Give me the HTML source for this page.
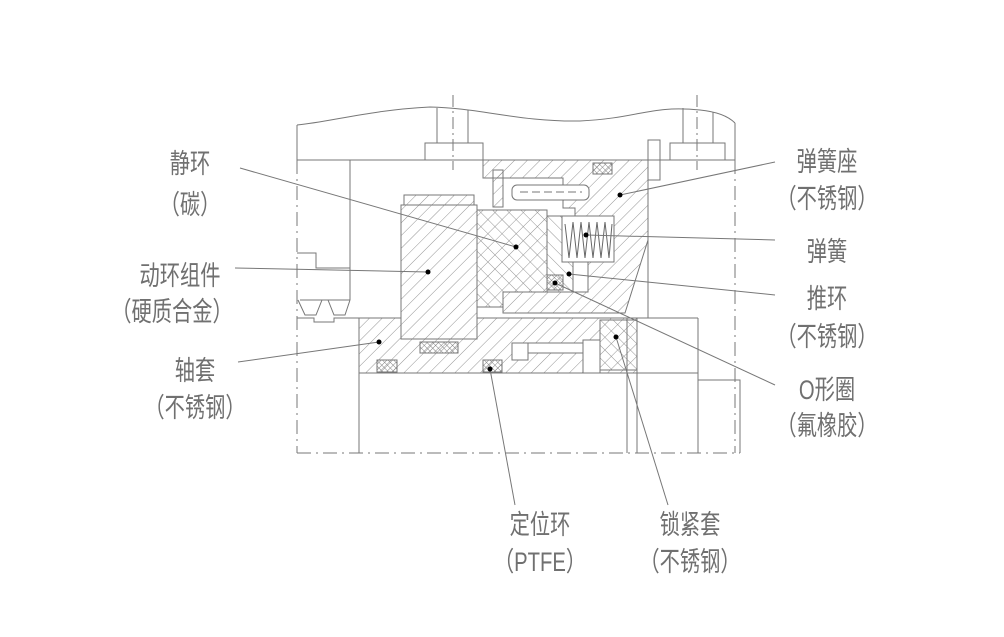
<!DOCTYPE html>
<html><head><meta charset="utf-8"><style>
html,body{margin:0;padding:0;background:#fff;}
svg{display:block;}
text{font-family:"Liberation Sans","Noto Sans CJK SC",sans-serif;fill:#707070;font-size:27px;}
</style></head><body>
<svg width="1004" height="637" viewBox="0 0 1004 637" xmlns="http://www.w3.org/2000/svg">
<defs>
<pattern id="h1" width="9" height="9" patternUnits="userSpaceOnUse" patternTransform="rotate(45)"><line x1="0" y1="0" x2="0" y2="9" stroke="#888" stroke-width="0.9"/></pattern>
<pattern id="h2" width="9" height="9" patternUnits="userSpaceOnUse" patternTransform="rotate(-45)"><line x1="0" y1="0" x2="0" y2="9" stroke="#888" stroke-width="0.9"/></pattern>
<pattern id="hx" width="10" height="10" patternUnits="userSpaceOnUse" patternTransform="rotate(45)"><line x1="0" y1="0" x2="0" y2="10" stroke="#888" stroke-width="0.9"/><line x1="0" y1="0" x2="10" y2="0" stroke="#888" stroke-width="0.9"/></pattern>
<pattern id="hs" width="4" height="4" patternUnits="userSpaceOnUse" patternTransform="rotate(45)"><line x1="0" y1="0" x2="0" y2="4" stroke="#777" stroke-width="0.9"/><line x1="0" y1="0" x2="4" y2="0" stroke="#777" stroke-width="0.9"/></pattern>
</defs>
<g stroke="#777" stroke-width="1" fill="none">
<path d="M297,125 C330,122 370,110 430,107 C480,108 520,122 580,121 C640,118 650,105 700,110 C720,112 730,118 735,123"/>
<line x1="297" y1="125" x2="297" y2="160"/>
<line x1="735" y1="123" x2="735" y2="160"/>
<line x1="297" y1="160" x2="735" y2="160"/>
<rect x="425" y="143" width="58" height="17"/>
<rect x="670" y="143" width="55" height="17"/>
<line x1="437" y1="108" x2="437" y2="143"/><line x1="468" y1="110" x2="468" y2="143"/>
<line x1="683" y1="108" x2="683" y2="143"/><line x1="713" y1="112" x2="713" y2="143"/>
<line x1="453" y1="95" x2="453" y2="170" stroke-dasharray="12,4,2,4"/>
<line x1="697" y1="95" x2="697" y2="170" stroke-dasharray="12,4,2,4"/>
<rect x="648" y="140" width="12" height="40"/>
<line x1="297" y1="160" x2="297" y2="453" stroke-dasharray="14,5,2,5"/>
<line x1="735" y1="160" x2="735" y2="453" stroke-dasharray="14,5,2,5"/>
<line x1="297" y1="453" x2="740" y2="453" stroke-dasharray="14,5,2,5"/>
<line x1="350" y1="160" x2="350" y2="300"/>
<polyline points="297,253 316,253 316,268 350,268"/>
<line x1="300" y1="300" x2="350" y2="300"/>
<path d="M298,300 L305,315 L316,315 L322,300 L328,300 L334,315 L345,315 L350,300"/>
<polyline points="297,318 314,318 314,322 334,322 334,318 359,318"/>
<line x1="359" y1="318" x2="359" y2="453"/>
<line x1="648" y1="180" x2="648" y2="318"/>
<line x1="637" y1="318" x2="698" y2="318"/>
<line x1="698" y1="318" x2="698" y2="453"/>
<line x1="627" y1="373" x2="627" y2="453"/>
<line x1="637" y1="373" x2="637" y2="453"/>
<line x1="637" y1="373" x2="698" y2="373"/>
<polyline points="698,380 740,380 740,453"/>
<line x1="359" y1="373" x2="637" y2="373"/>
<polygon points="483,160 648,160 648,240 625,313 503,313 503,292 575,292 575,208 563,208 563,178 483,178" fill="url(#h1)"/>
<rect x="562" y="216" width="52" height="46" fill="#fff"/>
<rect x="573" y="262" width="15" height="30" fill="#fff"/>
<polygon points="547,216 562,216 562,262 573,262 573,292 547,292" fill="url(#h2)"/>
<rect x="493" y="170" width="10" height="37" fill="url(#h1)"/>
<rect x="512" y="185" width="77" height="15" rx="5" fill="#fff"/>
<line x1="520" y1="192" x2="582" y2="192" stroke-dasharray="8,4"/>
<polygon points="477,210 547,210 547,292 503,292 503,307 477,307" fill="url(#hx)"/>
<rect x="404" y="195" width="70" height="10" fill="url(#h1)"/>
<rect x="401" y="205" width="76" height="134" fill="url(#h1)"/>
<polygon points="359,318 401,318 401,339 477,339 477,318 637,318 637,373 359,373" fill="url(#h1)"/>
<rect x="512" y="343" width="71" height="10" fill="#fff"/>
<rect x="512" y="343" width="16" height="17" fill="#fff"/>
<rect x="583" y="340" width="17" height="33" fill="#fff"/>
<rect x="600" y="320" width="37" height="50" fill="url(#h2)"/>
<line x1="627" y1="318" x2="627" y2="373"/>
<rect x="593" y="163" width="19" height="11" fill="url(#hs)"/>
<rect x="420" y="342" width="38" height="11" fill="url(#hs)"/>
<rect x="377" y="360" width="20" height="12" fill="url(#hs)"/>
<rect x="483" y="360" width="19" height="12" fill="url(#hs)"/>
<rect x="547" y="275" width="16" height="15" fill="url(#hs)"/>
<polyline points="565,224 569,258 573,222 577,258 581,222 585,258 589,222 593,258 597,222 601,258 605,222 609,258 612,224" stroke="#666"/>
<line x1="240" y1="168" x2="516" y2="247"/>
<line x1="235" y1="268" x2="428" y2="272"/>
<line x1="238" y1="362" x2="379" y2="342"/>
<line x1="775" y1="162" x2="620" y2="195"/>
<line x1="775" y1="240" x2="586" y2="235"/>
<line x1="775" y1="295" x2="569" y2="274"/>
<line x1="775" y1="385" x2="555" y2="283"/>
<line x1="515" y1="505" x2="490" y2="369"/>
<line x1="668" y1="505" x2="616" y2="337"/>
</g>
<g fill="#000">
<circle cx="516" cy="247" r="2.5"/><circle cx="428" cy="272" r="2.5"/><circle cx="379" cy="342" r="2.5"/>
<circle cx="620" cy="195" r="2.5"/><circle cx="586" cy="235" r="2.5"/><circle cx="569" cy="274" r="2.5"/>
<circle cx="555" cy="283" r="2.5"/><circle cx="490" cy="369" r="2.5"/><circle cx="616" cy="337" r="2.5"/>
</g>
<g text-anchor="middle">
<text x="190" y="173" transform="translate(47.5,0) scale(0.75,1)">静环</text>
<text x="190" y="214" transform="translate(47.5,0) scale(0.75,1)">（碳）</text>
<text x="180" y="285" transform="translate(45,0) scale(0.75,1)">动环组件</text>
<text x="172" y="321" transform="translate(43,0) scale(0.75,1)">（硬质合金）</text>
<text x="195" y="380" transform="translate(48.75,0) scale(0.75,1)">轴套</text>
<text x="195" y="417" transform="translate(48.75,0) scale(0.75,1)">（不锈钢）</text>
<text x="827" y="171" transform="translate(206.75,0) scale(0.75,1)">弹簧座</text>
<text x="827" y="208" transform="translate(206.75,0) scale(0.75,1)">（不锈钢）</text>
<text x="827" y="261" transform="translate(206.75,0) scale(0.75,1)">弹簧</text>
<text x="827" y="308" transform="translate(206.75,0) scale(0.75,1)">推环</text>
<text x="827" y="346" transform="translate(206.75,0) scale(0.75,1)">（不锈钢）</text>
<text x="827" y="399" transform="translate(206.75,0) scale(0.75,1)">O形圈</text>
<text x="827" y="435" transform="translate(206.75,0) scale(0.75,1)">（氟橡胶）</text>
<text x="540" y="534" transform="translate(135,0) scale(0.75,1)">定位环</text>
<text x="540" y="571" transform="translate(135,0) scale(0.75,1)">（PTFE）</text>
<text x="690" y="534" transform="translate(172.5,0) scale(0.75,1)">锁紧套</text>
<text x="690" y="571" transform="translate(172.5,0) scale(0.75,1)">（不锈钢）</text>
</g>
</svg>
</body></html>
